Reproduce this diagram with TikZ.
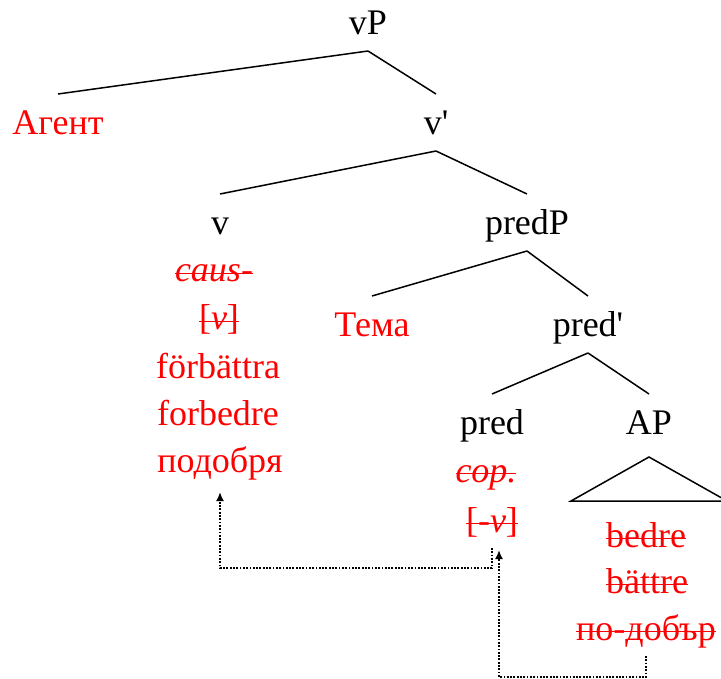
\documentclass[tikz,border=0pt]{standalone}
\usepackage{fontspec}
\setmainfont{Liberation Serif}
\usetikzlibrary{calc,arrows.meta}

\begin{document}
\begin{tikzpicture}[>={Latex[length=9pt,width=8pt]}, x=1pt, y=-1pt,
	every node/.style={font=\fontsize{36}{42}\selectfont, anchor=base, inner xsep=0pt, inner ysep=9pt, outer sep=0pt, text depth=7pt},
	cat/.style={text height=32pt},
	word/.style={red},
	struck/.style={red, append after command={([yshift=8.5pt]\tikzlastnode.base west) edge[red, line width=1.6pt] ([yshift=8.5pt]\tikzlastnode.base east)}},
	branch/.style={line width=1.5pt},
	move/.style={->, dash pattern=on 1.8pt off 1.5pt, line width=1.8pt}]
	\useasboundingbox (0,0) rectangle (721,679);
	\node[cat] (vP) at (368,35) {vP};
	\node[cat,word] (agent) at (58,135) {Агент};
	\node[cat] (v1) at (436,135) {v\textquotesingle};
	\node[cat] (v) at (220,235) {v};
	\node[cat] (predP) at (527,235) {predP};
	\node[cat,word] (tema) at (372,337) {Тема};
	\node[cat] (pred1) at (588,337) {pred\textquotesingle};
	\node[cat] (pred) at (492,435) {pred};
	\node[cat] (AP) at (649,435) {AP};
	\node[struck] (caus) at (214,282) {\textit{caus-}};
	\node[struck] (vfeat) at (219,330) {[\textit{v}]};
	\node[word] (forb1) at (218,378) {förbättra};
	\node[word] (forb2) at (218,425) {forbedre};
	\node[word] (podobrja) at (220,472) {подобря};
	\node[struck] (cop) at (486,482) {\textit{cop.}};
	\node[struck] (predv) at (492,532) {[-\textit{v}]};
	\node[struck] (bedre) at (646,547) {bedre};
	\node[struck] (battre) at (647,593) {bättre};
	\node[struck] (podobar) at (646,640) {по-добър};
	\draw[branch] (vP.south) -- (agent.north);
	\draw[branch] (vP.south) -- (v1.north);
	\draw[branch] (v1.south) -- (v.north);
	\draw[branch] (v1.south) -- (predP.north);
	\draw[branch] (predP.south) -- (tema.north);
	\draw[branch] (predP.south) -- (pred1.north);
	\draw[branch] (pred1.south) -- (pred.north);
	\draw[branch] (pred1.south) -- (AP.north);
	\draw[branch] (AP.south) ++(0,6) -- ++(-78,44) -- ++(156,0) -- cycle;
	\draw[move] (predv.south) -- ++(0,20) -| ([yshift=-4pt]podobrja.south);
	\draw[move] (podobar.south) -- ++(0,21) -| ([xshift=7pt,yshift=-2pt]predv.south);
	
	\end{tikzpicture}
\end{document}
